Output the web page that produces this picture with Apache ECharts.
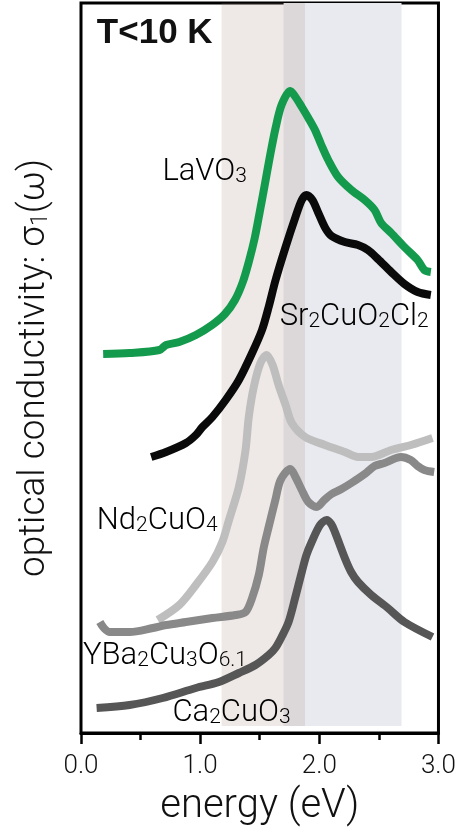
<!DOCTYPE html>
<html>
<head>
<meta charset="utf-8">
<script src="https://cdn.jsdelivr.net/npm/echarts@6/dist/echarts.min.js"></script>
<style>
html,body{margin:0;padding:0;background:#fff;}
#chart{width:459px;height:834px;}
</style>
</head>
<body>
<div id="chart"></div>
<script>
// ---- data (energy in eV, conductivity in arbitrary offset units) ----
const energyLaVO3 = [0.186,0.408,0.658,0.714,0.825,0.964,1.100,1.208,1.292,1.358,1.408,1.458,1.500,1.542,1.583,1.633,1.683,1.756,1.800,1.853,1.908,1.964,2.017,2.075,2.158,2.269,2.381,2.464,2.519,2.603,2.714,2.825,2.881,2.936];
const sigmaLaVO3  = [379,380,383,388,391,398,408,419,433,451,471,495,521,548,575,605,628,642,636,626,615,603,588,573,556,543,533,523,510,500,486,473,463,461];

const energySr2CuO2Cl2 = [0.589,0.714,0.881,0.964,1.019,1.103,1.214,1.325,1.436,1.519,1.575,1.633,1.717,1.800,1.853,1.892,1.942,1.992,2.050,2.103,2.214,2.325,2.408,2.492,2.603,2.714,2.825,2.936];
const sigmaSr2CuO2Cl2  = [276,281,290,298,306,316,333,353,380,403,426,453,486,516,533,538,533,520,505,497,491,488,483,474,461,449,441,438];

const energyNd2CuO4 = [0.644,0.825,0.964,1.103,1.186,1.242,1.325,1.381,1.408,1.450,1.506,1.558,1.608,1.658,1.717,1.769,1.881,2.047,2.214,2.325,2.436,2.603,2.769,2.950];
const sigmaNd2CuO4  = [113,128,148,171,191,213,246,283,316,346,370,378,368,348,328,310,296,288,281,276,276,283,288,295];

const energyYBCO = [0.158,0.192,0.242,0.408,0.603,0.714,0.881,1.103,1.297,1.381,1.436,1.492,1.533,1.575,1.631,1.675,1.756,1.800,1.853,1.908,1.978,2.042,2.103,2.186,2.269,2.381,2.464,2.547,2.686,2.767,2.825,2.881,2.964];
const sigmaYBCO  = [111,105,101,101,105,108,111,115,118,121,135,158,185,206,233,253,264,256,243,231,226,233,239,244,250,259,267,270,276,273,267,263,261];

const energyCa2CuO3 = [0.131,0.408,0.686,0.964,1.158,1.325,1.464,1.575,1.631,1.683,1.742,1.797,1.853,1.892,1.936,2.006,2.061,2.100,2.131,2.214,2.267,2.325,2.436,2.575,2.714,2.950];
const sigmaCa2CuO3  = [25,28,35,45,51,60,68,78,85,96,111,135,161,178,191,208,213,209,201,175,161,151,138,125,111,96];

// shaded energy windows (eV)
const bandWarm = [1.18, 1.88];
const bandCool = [1.70, 2.69];

// axis
const xTicks = [0.0, 1.0, 2.0, 3.0];

// curve labels: [text(rich), energy, sigma]
const curveLabels = [
  ['{m|LaVO}{s|3}', 0.683, 561],
  ['{m|Sr}{s|2}{m|CuO}{s|2}{m|Cl}{s|2}', 1.667, 416],
  ['{m|Nd}{s|2}{m|CuO}{s|4}', 0.133, 212],
  ['{m|YBa}{s|2}{m|Cu}{s|3}{m|O}{s|6.1}', 0.017, 77],
  ['{m|Ca}{s|2}{m|CuO}{s|3}', 0.767, 20]
];
const tempLabel = ['T<10 K', 0.133, 700];

const FONT = "Roboto, 'Liberation Sans', Arial, sans-serif";
const BOLDFONT = "'Liberation Sans', Arial, Helvetica, sans-serif";
const TXT = '#111';

function zip(xs, ys){ return xs.map((x,i)=>[x, ys[i]]); }

const chart = echarts.init(document.getElementById('chart'), null, {renderer:'canvas'});

function lineSeries(name, xs, ys, color){
  return {
    name, type:'line', data: zip(xs, ys), showSymbol:false, symbol:'none',
    smooth:0.3, z:3,
    lineStyle:{color, width:8, cap:'butt', join:'round'},
    emphasis:{disabled:true}, silent:true
  };
}

const option = {
  animation:false,
  backgroundColor:'#fff',
  grid:{left:81, right:18, top:3, bottom:101, show:true, borderColor:'#000', borderWidth:3, backgroundColor:'transparent'},
  xAxis:{
    type:'value', min:0, max:3, interval:1,
    axisLine:{show:true, onZero:false, lineStyle:{color:'#000', width:3}},
    axisTick:{show:true, length:11, lineStyle:{color:'#000', width:2.5}},
    minorTick:{show:true, splitNumber:2, length:7, lineStyle:{color:'#000', width:2.5}},
    splitLine:{show:false}, minorSplitLine:{show:false},
    axisLabel:{show:true, showMinLabel:true, showMaxLabel:true, margin:20, fontSize:26, fontWeight:300, color:TXT, fontFamily:FONT,
      formatter:(v)=> xTicks.indexOf(v) >= 0 ? v.toFixed(1) : ''},
    name:'energy (eV)', nameLocation:'middle', nameGap:54,
    nameTextStyle:{fontSize:40, fontWeight:300, color:TXT, fontFamily:FONT}
  },
  yAxis:{
    type:'value', min:0, max:730,
    axisLine:{show:false}, axisTick:{show:false}, axisLabel:{show:false}, splitLine:{show:false},
    name:'optical conductivity: σ{s|1}(ω)', nameLocation:'middle', nameGap:28, nameRotate:90,
    nameTextStyle:{fontSize:37, fontWeight:300, color:TXT, fontFamily:FONT,
      rich:{s:{fontSize:23, fontWeight:300, lineHeight:21, verticalAlign:'bottom', color:TXT, fontFamily:FONT}}}
  },
  series:[
    {
      type:'line', data:[], z:1, silent:true,
      markArea:{silent:true, itemStyle:{color:'#E9EAEF'},
        data:[[{xAxis:bandCool[0], yAxis:7},{xAxis:bandCool[1], yAxis:730}]]}
    },
    lineSeries('LaVO3', energyLaVO3, sigmaLaVO3, '#149A4C'),
    lineSeries('Sr2CuO2Cl2', energySr2CuO2Cl2, sigmaSr2CuO2Cl2, '#0a0a0a'),
    lineSeries('Nd2CuO4', energyNd2CuO4, sigmaNd2CuO4, '#BEBEBE'),
    lineSeries('YBa2Cu3O6.1', energyYBCO, sigmaYBCO, '#898989'),
    lineSeries('Ca2CuO3', energyCa2CuO3, sigmaCa2CuO3, '#565656'),
    {
      type:'line', data:[], z:6, silent:true,
      markArea:{silent:true, itemStyle:{color:'rgba(158,130,113,0.176)'},
        data:[[{xAxis:bandWarm[0], yAxis:7},{xAxis:bandWarm[1], yAxis:730}]]}
    }
  ]
};
chart.setOption(option);

const richStyle = {
  m:{fontSize:31, lineHeight:31, fontWeight:300, fontFamily:FONT, color:TXT},
  s:{fontSize:21, lineHeight:19, fontWeight:300, verticalAlign:'bottom', fontFamily:FONT, color:TXT}
};
const graphics = curveLabels.map(([t,e,v])=>{
  const p = chart.convertToPixel({gridIndex:0}, [e,v]);
  return {type:'text', x:p[0], y:p[1], z:100, silent:true,
    style:{text:t, rich:richStyle, align:'left', verticalAlign:'middle'}};
});
const tp = chart.convertToPixel({gridIndex:0}, [tempLabel[1], tempLabel[2]]);
graphics.push({type:'text', x:tp[0], y:tp[1], z:100, silent:true,
  style:{text:tempLabel[0], fontSize:35, fontWeight:'bold', fontFamily:BOLDFONT, fill:TXT, align:'left', verticalAlign:'middle'}});
chart.setOption({graphic:graphics});
</script>
</body>
</html>
